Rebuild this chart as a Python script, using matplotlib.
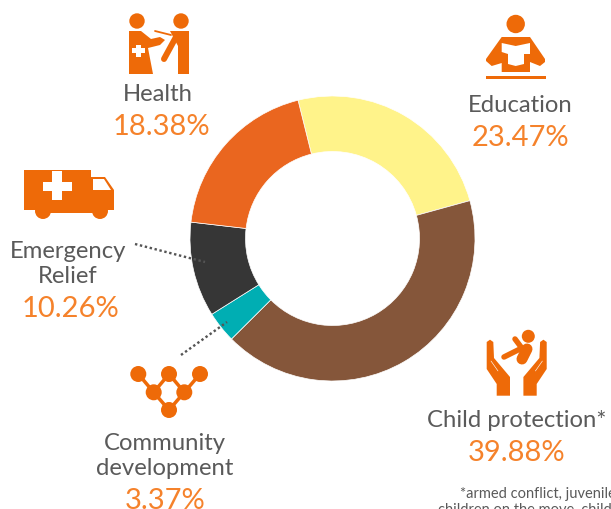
import matplotlib
matplotlib.use("Agg")
import matplotlib.pyplot as plt
from matplotlib.patches import Circle, Polygon, Rectangle

plt.rcParams['font.family'] = ['Lato', 'DejaVu Sans']

categories = ["Education", "Child protection", "Community development", "Emergency Relief", "Health"]
shares = [23.47, 39.88, 3.37, 10.26, 18.38]
slice_colors = ["#FFF38A", "#85563A", "#00AEB3", "#363636", "#EA661F"]

W, H = 611, 510
ICON = "#EE6A08"
GREY = "#5A5A5A"
PCT = "#F5822B"
PX = 0.72  # one pixel in points at dpi 100

fig = plt.figure(figsize=(W / 100, H / 100), dpi=100)

# donut, centre and radius in picture pixels
cx, cy, R = 332.5, 239.5, 142.5
axd = fig.add_axes([(cx - R) / W, 1 - (cy + R) / H, 2 * R / W, 2 * R / H])
axd.pie(shares, colors=slice_colors, startangle=104, counterclock=False, radius=1,
        wedgeprops=dict(width=1 - 87 / 142.5, edgecolor="white", linewidth=0.5))
axd.set_xlim(-1, 1)
axd.set_ylim(-1, 1)

# overlay in picture pixels
ax = fig.add_axes([0, 0, 1, 1])
ax.set_xlim(0, W)
ax.set_ylim(H, 0)
ax.axis("off")
ax.patch.set_alpha(0)


def poly(pts, color=ICON):
    ax.add_patch(Polygon(pts, closed=True, fc=color, ec="none"))


def circ(x, y, r, color=ICON):
    ax.add_patch(Circle((x, y), r, fc=color, ec="none"))


def line(xs, ys, w, color=ICON, **kw):
    ax.plot(xs, ys, color=color, lw=w * PX, solid_capstyle="round", **kw)


def label(x, y, s, size, color=GREY, **kw):
    ax.text(x, y, s, fontsize=size, color=color, ha=kw.pop("ha", "center"), va="baseline", **kw)


def pct(x, y, value):
    label(x, y, f"{value:.2f}%", BIG, PCT)


# health icon
circ(137, 22, 7.7)
circ(181, 22, 7.7)
poly([(129, 32), (141, 32), (151, 40), (160, 38), (165, 41), (160, 46), (148, 49), (153, 75), (129, 75)])
ax.add_patch(Rectangle((132, 49), 13, 5, fc="white", ec="none"))
ax.add_patch(Rectangle((136, 46), 5, 12, fc="white", ec="none"))
line([155, 171], [32, 36], 1.8)
poly([(170, 32), (189, 32), (189, 75), (178, 75), (178, 47)])
line([164, 176], [60, 38], 6)

# ambulance icon
ax.add_patch(Rectangle((24, 171), 67, 40, fc=ICON, ec="none"))
ax.add_patch(Rectangle((43, 211), 57, 3, fc=ICON, ec="none"))
poly([(91, 178), (105, 178), (114, 191), (114, 211), (91, 211)])
poly([(93, 180), (104, 180), (111, 191), (93, 191)], "white")
ax.add_patch(Rectangle((43, 183), 29, 9, fc="white", ec="none"))
ax.add_patch(Rectangle((52, 172), 10, 29, fc="white", ec="none"))
circ(43, 212, 8)
circ(100, 212, 8)

# education icon
circ(515.7, 25, 9.2)
poly([(501.7, 38), (530, 38), (545, 60), (545, 63), (540, 67), (530, 63), (530, 73), (501.7, 73),
      (501.7, 64), (491.7, 67), (486, 62), (486, 60)])
poly([(501.7, 44), (515.7, 47), (530, 44), (530, 55), (524, 55), (524, 65), (515.7, 67), (508, 65),
      (508, 55), (501.7, 53)], "white")
ax.add_patch(Rectangle((486, 77), 60, 2.5, fc=ICON, ec="none"))

# child protection icon
left_hand = [(486.7, 343), (490, 340.7), (493.3, 343), (494, 359), (510, 378), (510, 396.7),
             (496.7, 396.7), (496.7, 385), (486.7, 370)]
poly(left_hand)
poly([(2 * 516.7 - x, y) for x, y in left_hand])
line([491, 498], [362, 372], 0.6, color="white")
line([2 * 516.7 - 491, 2 * 516.7 - 498], [362, 372], 0.6, color="white")
circ(528.3, 337.3, 6.5)
line([527, 522], [350, 360], 11)
line([515, 524], [340, 352], 5.5)
line([504, 520], [358, 350], 5.5)

# community icon
nodes = [(138.3, 375), (169, 375), (200, 375), (153.7, 393.3), (184.3, 393.3), (169, 411)]
for a, b in [(0, 3), (3, 1), (1, 4), (4, 2), (3, 5), (4, 5)]:
    line([nodes[a][0], nodes[b][0]], [nodes[a][1], nodes[b][1]], 3.5)
for x, y in nodes:
    circ(x, y, 8)

# leader lines
ax.plot([135, 205], [245, 263], color="#555555", lw=2.4 * PX, ls=(0, (1, 1.1)))
ax.plot([181, 227], [356, 323], color="#555555", lw=2.4 * PX, ls=(0, (1, 1.1)))

# labels
NAME = 17.2
BIG = 21
label(158, 101, "Health", NAME)
pct(161, 135, shares[4])
label(520, 112, "Education", NAME)
pct(520, 146, shares[0])
label(68, 258, "Emergency", NAME)
label(68, 283, "Relief", NAME)
pct(70, 317, shares[3])
label(165, 450, "Community", NAME)
label(165, 475, "development", NAME)
pct(165, 509, shares[2])
label(517, 427, "Child protection*", NAME)
pct(517, 461, shares[1])
label(460, 498, "*armed conflict, juvenile", 10.5, ha="left")
label(438, 514, "children on the move, child", 10.5, ha="left")

fig.savefig("out.png", dpi=100)
